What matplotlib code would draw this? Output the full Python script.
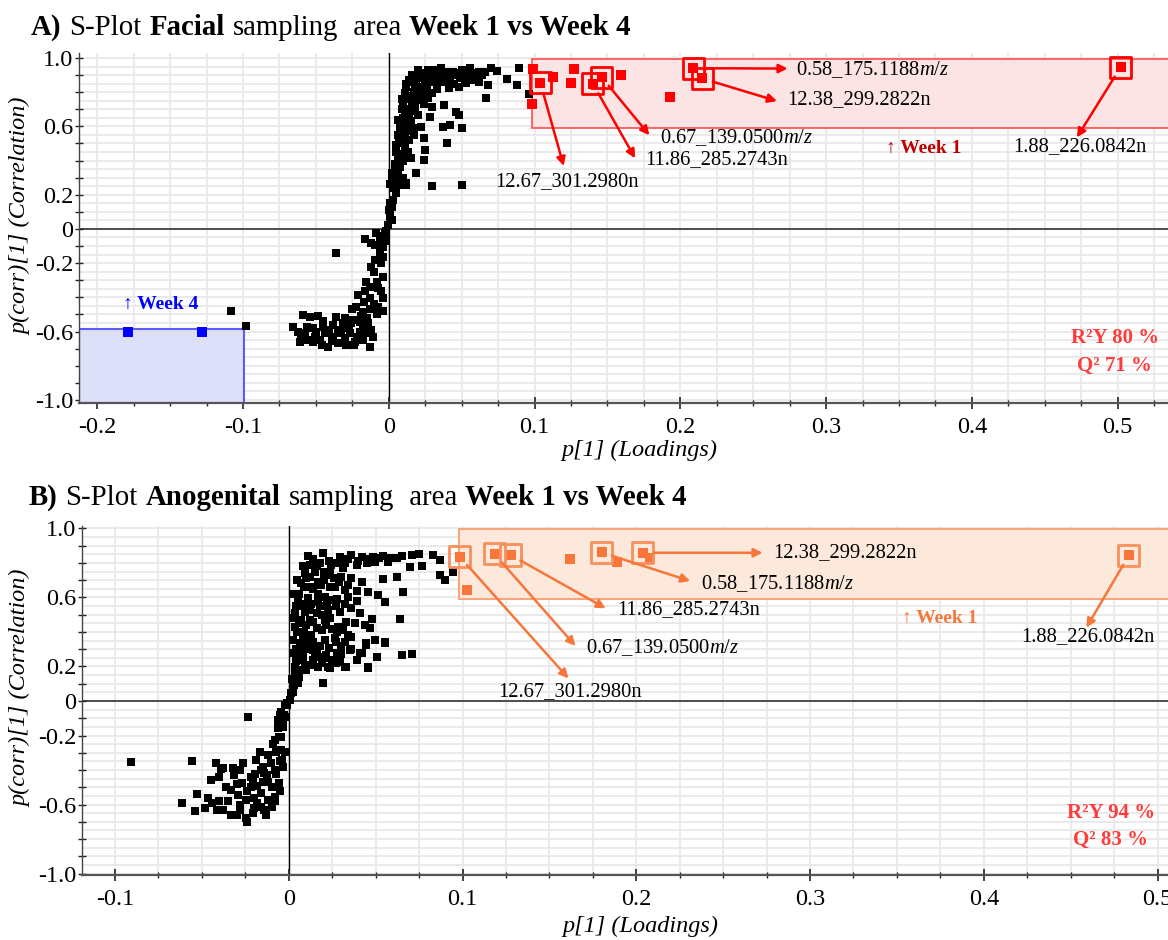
import matplotlib
matplotlib.use("Agg")
import matplotlib.pyplot as plt
import numpy as np
from matplotlib.patches import Rectangle
from matplotlib.ticker import MultipleLocator
from matplotlib.transforms import IdentityTransform

plt.rcParams["font.family"] = ["Liberation Serif", "DejaVu Serif"]
plt.rcParams["mathtext.fontset"] = "custom"
plt.rcParams["mathtext.rm"] = "Liberation Serif"
plt.rcParams["mathtext.it"] = "Liberation Serif:italic"
plt.rcParams["axes.unicode_minus"] = False

# ---------------- panel A: facial ----------------
A_BLACK = [
    (0.020, 0.930), (0.027, 0.930), (0.036, 0.940), (0.044, 0.920), (0.050, 0.930),
    (0.056, 0.940), (0.062, 0.920), (0.070, 0.940), (0.089, 0.940), (0.031, 0.930),
    (0.039, 0.920), (0.014, 0.871), (0.021, 0.881), (0.029, 0.891), (0.035, 0.881),
    (0.042, 0.871), (0.049, 0.881), (0.054, 0.891), (0.060, 0.881), (0.068, 0.842),
    (0.081, 0.877), (0.088, 0.842), (0.046, 0.900), (0.058, 0.900), (0.064, 0.900),
    (0.052, 0.870), (0.045, 0.850), (0.057, 0.870), (0.037, 0.860), (0.033, 0.820),
    (0.012, 0.832), (0.019, 0.842), (0.026, 0.842), (0.033, 0.852), (0.041, 0.823),
    (0.048, 0.832), (0.053, 0.852), (0.062, 0.862), (0.015, 0.860), (0.018, 0.820),
    (0.022, 0.830), (0.025, 0.870), (0.011, 0.793), (0.017, 0.803), (0.024, 0.803),
    (0.030, 0.793), (0.067, 0.768), (0.096, 0.788), (0.013, 0.780), (0.019, 0.770),
    (0.023, 0.780), (0.010, 0.735), (0.016, 0.745), (0.021, 0.754), (0.027, 0.764),
    (0.038, 0.725), (0.030, 0.715), (0.009, 0.700), (0.013, 0.700), (0.018, 0.710),
    (0.014, 0.667), (0.020, 0.667), (0.028, 0.657), (0.048, 0.667), (0.046, 0.686),
    (0.008, 0.630), (0.0075, 0.608), (0.012, 0.608), (0.017, 0.589), (0.022, 0.598),
    (0.037, 0.598), (0.042, 0.608), (0.050, 0.592), (0.010, 0.580), (0.013, 0.570),
    (0.0064, 0.550), (0.011, 0.540), (0.017, 0.550), (0.024, 0.530), (0.040, 0.501),
    (0.0098, 0.501), (0.007, 0.500), (0.011, 0.480), (0.013, 0.452), (0.025, 0.462),
    (0.005, 0.452), (0.0155, 0.413), (0.024, 0.404), (0.006, 0.420), (0.010, 0.400),
    (0.004, 0.380), (0.008, 0.360), (0.0064, 0.355), (0.019, 0.326), (0.003, 0.316),
    (0.002, 0.330), (0.006, 0.310), (0.0098, 0.296), (0.004, 0.267), (0.012, 0.257),
    (0.002, 0.280), (0.007, 0.270), (0.030, 0.251), (0.050, 0.257), (0.005, 0.228),
    (0.003, 0.240), (0.0075, 0.257), (0.012, 0.267), (0.005, 0.209), (0.003, 0.170),
    (0.002, 0.130), (0.0007, 0.092), (0.0025, 0.053), (-0.0005, 0.023), (0.001, 0.150),
    (0.000, 0.110), (0.001, 0.070), (0.016, 0.900), (0.023, 0.910), (0.028, 0.905),
    (0.034, 0.900), (0.040, 0.895), (0.047, 0.910), (0.053, 0.915), (0.060, 0.910),
    (0.066, 0.920), (0.074, 0.925), (0.012, 0.850), (0.017, 0.860), (0.020, 0.800),
    (0.026, 0.820), (0.029, 0.860), (0.009, 0.760), (0.014, 0.760), (0.018, 0.730),
    (0.024, 0.730), (0.011, 0.680), (0.016, 0.690), (0.006, 0.640), (0.010, 0.650),
    (0.015, 0.630), (0.008, 0.590), (0.014, 0.520), (0.009, 0.530), (0.005, 0.490),
    (0.012, 0.430), (0.008, 0.440), (0.007, 0.390), (0.004, 0.340), (0.002, 0.300),
    (0.001, 0.260),
    (-0.0027, -0.025), (-0.0085, -0.025), (-0.0165, -0.060), (-0.0096, -0.094), (-0.0039, -0.103),
    (-0.036, -0.140), (-0.0039, -0.162), (-0.0096, -0.181), (-0.0119, -0.220), (-0.0039, -0.279),
    (-0.0153, -0.308), (-0.0073, -0.346), (-0.013, -0.337), (-0.0211, -0.386), (-0.013, -0.405),
    (-0.0039, -0.405), (-0.0222, -0.454), (-0.0073, -0.454), (-0.013, -0.470), (-0.018, -0.483),
    (-0.005, -0.040), (-0.002, -0.070), (-0.006, -0.140), (-0.002, -0.010), (-0.006, -0.060),
    (-0.012, -0.080), (-0.005, -0.200), (-0.010, -0.250), (-0.008, -0.310), (-0.005, -0.360),
    (-0.016, -0.360), (-0.010, -0.440), (-0.017, -0.430), (-0.025, -0.470), (-0.008, -0.500),
    (-0.015, -0.520), (-0.004, -0.480),
    (-0.0588, -0.503), (-0.0485, -0.510), (-0.054, -0.515), (-0.0359, -0.515), (-0.030, -0.522),
    (-0.0245, -0.530), (-0.0187, -0.510), (-0.0656, -0.571), (-0.0622, -0.600), (-0.056, -0.571),
    (-0.0519, -0.581), (-0.045, -0.571), (-0.0382, -0.561), (-0.0313, -0.551), (-0.0256, -0.551),
    (-0.020, -0.542), (-0.0142, -0.551), (-0.061, -0.659), (-0.0553, -0.649), (-0.0507, -0.630),
    (-0.0473, -0.649), (-0.0416, -0.688), (-0.0348, -0.669), (-0.029, -0.678), (-0.0233, -0.659),
    (-0.0176, -0.649), (-0.013, -0.688), (-0.0108, -0.630), (-0.0576, -0.610), (-0.044, -0.610),
    (-0.0382, -0.630), (-0.0325, -0.610), (-0.0267, -0.610), (-0.020, -0.600), (-0.0153, -0.610),
    (-0.0496, -0.600), (-0.041, -0.590), (-0.022, -0.630), (-0.030, -0.640), (-0.046, -0.678),
    (-0.060, -0.630), (-0.052, -0.660), (-0.039, -0.655), (-0.033, -0.590), (-0.027, -0.580),
    (-0.045, -0.540), (-0.018, -0.580), (-0.012, -0.590), (-0.024, -0.680), (-0.035, -0.600),
    (-0.108, -0.480), (-0.098, -0.566),
]
A_RED = [
    (0.099, 0.936), (0.104, 0.855), (0.1125, 0.888), (0.127, 0.936), (0.125, 0.853),
    (0.140, 0.850), (0.146, 0.888), (0.159, 0.901), (0.0985, 0.730), (0.193, 0.769),
    (0.209, 0.940), (0.215, 0.880), (0.502, 0.946),
]
A_BLUE = [(-0.179, -0.600), (-0.128, -0.600)]
A_STATS = ["R²Y 80 %", "Q² 71 %"]

# ---------------- panel B: anogenital ----------------
B_BLACK = [
    (0.0198, 0.856), (0.0294, 0.836), (0.0361, 0.846), (0.042, 0.836), (0.0486, 0.836),
    (0.0543, 0.840), (0.062, 0.826), (0.0707, 0.846), (0.0831, 0.846), (0.087, 0.817),
    (0.0121, 0.788), (0.018, 0.797), (0.0245, 0.788), (0.0323, 0.797), (0.039, 0.788),
    (0.045, 0.797), (0.0495, 0.807), (0.0572, 0.807), (0.0697, 0.778), (0.0764, 0.782),
    (0.0946, 0.745), (0.087, 0.730), (0.0899, 0.700), (0.0092, 0.740), (0.015, 0.750),
    (0.0227, 0.730), (0.0303, 0.720), (0.0361, 0.711), (0.042, 0.691), (0.0543, 0.705),
    (0.062, 0.717), (0.0073, 0.681), (0.013, 0.662), (0.0188, 0.672), (0.0265, 0.662),
    (0.0323, 0.643), (0.0054, 0.585), (0.0111, 0.594), (0.0169, 0.575), (0.0245, 0.585),
    (0.0323, 0.565), (0.0457, 0.633), (0.0514, 0.614), (0.0553, 0.575), (0.0659, 0.633),
    (0.0035, 0.508), (0.0092, 0.517), (0.016, 0.508), (0.0227, 0.527), (0.0294, 0.517),
    (0.0361, 0.537), (0.0409, 0.508), (0.0035, 0.431), (0.0102, 0.440), (0.016, 0.421),
    (0.0217, 0.440), (0.0284, 0.431), (0.038, 0.450), (0.0466, 0.421), (0.048, 0.475),
    (0.0639, 0.475), (0.0025, 0.354), (0.0083, 0.363), (0.014, 0.344), (0.0207, 0.354),
    (0.0265, 0.363), (0.0323, 0.344), (0.0361, 0.373), (0.0447, 0.334), (0.0495, 0.354),
    (0.0553, 0.344), (0.0025, 0.276), (0.0083, 0.267), (0.015, 0.276), (0.0217, 0.267),
    (0.0284, 0.257), (0.0351, 0.295), (0.042, 0.276), (0.0505, 0.257), (0.0649, 0.267),
    (0.0707, 0.272), (0.0035, 0.199), (0.0092, 0.208), (0.017, 0.199), (0.0236, 0.189),
    (0.0323, 0.199), (0.0457, 0.199), (0.006, 0.620), (0.008, 0.550), (0.012, 0.470),
    (0.005, 0.400), (0.011, 0.300), (0.018, 0.320), (0.013, 0.380), (0.019, 0.410),
    (0.024, 0.480), (0.027, 0.550), (0.021, 0.600), (0.014, 0.650), (0.026, 0.710),
    (0.017, 0.690), (0.010, 0.710), (0.031, 0.770), (0.023, 0.810), (0.028, 0.400),
    (0.033, 0.460), (0.036, 0.300), (0.039, 0.240), (0.027, 0.220), (0.014, 0.240),
    (0.006, 0.250), (0.020, 0.250), (0.004, 0.300), (0.010, 0.330), (0.016, 0.270),
    (0.007, 0.470), (0.019, 0.500), (0.013, 0.560), (0.017, 0.620), (0.009, 0.660),
    (0.004, 0.550), (0.003, 0.480), (0.0438, 0.440), (0.0351, 0.373), (0.0447, 0.324),
    (0.0553, 0.334), (0.0409, 0.276), (0.0332, 0.199), (0.0457, 0.189), (0.0198, 0.102),
    (0.0227, 0.199), (0.0063, 0.334), (0.014, 0.295), (0.0083, 0.237), (0.0179, 0.257),
    (0.0275, 0.276), (0.0294, 0.228), (0.0035, 0.160), (0.0102, 0.180), (0.0054, 0.102),
    (0.0015, 0.044), (0.0006, 0.006), (0.0025, 0.054), (0.002, 0.130), (0.006, 0.140),
    (0.003, 0.620), (0.005, 0.700), (0.008, 0.780), (0.011, 0.840), (0.014, 0.820),
    (0.016, 0.780), (0.020, 0.750), (0.024, 0.750), (0.028, 0.800), (0.034, 0.820),
    (0.040, 0.810), (0.047, 0.820), (0.052, 0.830), (0.058, 0.830), (0.065, 0.840),
    (0.075, 0.850), (0.012, 0.720), (0.020, 0.700), (0.024, 0.660), (0.029, 0.690),
    (0.034, 0.670), (0.039, 0.640), (0.007, 0.560), (0.012, 0.530), (0.018, 0.550),
    (0.022, 0.570), (0.028, 0.590), (0.034, 0.600), (0.039, 0.580), (0.006, 0.450),
    (0.009, 0.400), (0.014, 0.460), (0.021, 0.470), (0.025, 0.420), (0.031, 0.410),
    (0.034, 0.380), (0.027, 0.340), (0.023, 0.310), (0.030, 0.320), (0.012, 0.360),
    (0.007, 0.290), (0.013, 0.210), (0.019, 0.220), (0.025, 0.240), (0.030, 0.270),
    (0.004, 0.230), (0.007, 0.180), (0.003, 0.090), (0.004, 0.120),
    (-0.0023, -0.025), (-0.0042, -0.064), (-0.0023, -0.090), (-0.0013, -0.013),
    (-0.0052, -0.081), (-0.0234, -0.091), (-0.0033, -0.120), (-0.0061, -0.158),
    (-0.0042, -0.207), (-0.0081, -0.226), (-0.0167, -0.294), (-0.0119, -0.313),
    (-0.0071, -0.294), (-0.0023, -0.294), (-0.0555, -0.346), (-0.042, -0.361),
    (-0.0388, -0.395), (-0.032, -0.390), (-0.0263, -0.357), (-0.0282, -0.400),
    (-0.040, -0.442), (-0.0186, -0.340), (-0.0148, -0.380), (-0.010, -0.360),
    (-0.0052, -0.350), (-0.0196, -0.420), (-0.0128, -0.430), (-0.0071, -0.420),
    (-0.091, -0.353), (-0.0613, -0.589), (-0.0527, -0.539), (-0.0463, -0.564),
    (-0.054, -0.636), (-0.0484, -0.620), (-0.0377, -0.632), (-0.0334, -0.660),
    (-0.0248, -0.680), (-0.0205, -0.651), (-0.0162, -0.612), (-0.0119, -0.574),
    (-0.0291, -0.545), (-0.0334, -0.516), (-0.027, -0.477), (-0.0205, -0.458),
    (-0.0377, -0.390), (-0.0313, -0.429), (-0.0141, -0.419), (-0.0098, -0.496),
    (-0.0162, -0.535), (-0.0248, -0.574), (-0.0184, -0.593), (-0.0141, -0.632),
    (-0.0411, -0.632), (-0.0441, -0.593), (-0.0098, -0.612), (-0.0077, -0.554),
    (-0.0055, -0.477), (-0.0034, -0.380), (-0.0042, -0.284), (-0.0055, -0.207),
    (-0.0034, -0.149), (-0.0025, -0.081), (-0.0012, -0.023), (-0.022, -0.500),
    (-0.015, -0.470), (-0.028, -0.600), (-0.035, -0.580), (-0.020, -0.560),
    (-0.004, -0.340), (-0.008, -0.400), (-0.012, -0.470), (-0.018, -0.490),
    (-0.024, -0.520), (-0.030, -0.480), (-0.028, -0.630), (-0.020, -0.620),
    (-0.013, -0.660), (-0.008, -0.580), (-0.005, -0.520), (-0.016, -0.400),
    (-0.022, -0.440), (-0.009, -0.250), (-0.006, -0.110), (-0.045, -0.460),
    (-0.036, -0.500), (-0.040, -0.580), (-0.030, -0.660), (-0.024, -0.700),
]
B_ORANGE = [
    (0.0984, 0.836), (0.1026, 0.643), (0.1184, 0.852), (0.1277, 0.846), (0.1619, 0.824),
    (0.180, 0.861), (0.189, 0.807), (0.2036, 0.859), (0.2078, 0.827), (0.4835, 0.845),
]
B_STATS = ["R²Y 94 %", "Q² 83 %"]

# annotation: label, marked point, arrow tip, text anchor, horizontal alignment
A_NOTES = [
    ("12.67_301.2980n", (0.104, 0.855), (0.120, 0.368), (0.122, 0.275), "center"),
    ("11.86_285.2743n", (0.140, 0.850), (0.169, 0.413), (0.176, 0.407), "left"),
    ("0.67_139.0500$m/z$", (0.146, 0.888), (0.1788, 0.548), (0.186, 0.535), "left"),
    ("0.58_175.1188$m/z$", (0.209, 0.940), (0.2736, 0.938), (0.279, 0.932), "left"),
    ("12.38_299.2822n", (0.215, 0.880), (0.2663, 0.748), (0.2736, 0.756), "left"),
    ("1.88_226.0842n", (0.502, 0.946), (0.472, 0.535), (0.428, 0.484), "left"),
]
B_NOTES = [
    ("12.67_301.2980n", (0.0984, 0.836), (0.161, 0.131), (0.162, 0.052), "center"),
    ("0.67_139.0500$m/z$", (0.1184, 0.852), (0.165, 0.319), (0.171, 0.309), "left"),
    ("11.86_285.2743n", (0.1277, 0.846), (0.1824, 0.537), (0.189, 0.527), "left"),
    ("0.58_175.1188$m/z$", (0.180, 0.861), (0.231, 0.695), (0.2374, 0.682), "left"),
    ("12.38_299.2822n", (0.2036, 0.859), (0.2727, 0.859), (0.279, 0.859), "left"),
    ("1.88_226.0842n", (0.4835, 0.845), (0.459, 0.425), (0.4217, 0.373), "left"),
]

Y_LABELS = {1.0: "1.0", 0.6: "0.6", 0.2: "0.2", 0.0: "0", -0.2: "-0.2", -0.6: "-0.6", -1.0: "-1.0"}

RED = "#ff0000"
ORANGE = "#f8763a"
BLUE = "#0000ff"


def style_axes(ax, xlim, ylim, xticks):
    ax.set_xlim(*xlim)
    ax.set_ylim(*ylim)
    for side in ("top", "right"):
        ax.spines[side].set_visible(False)
    ax.spines["left"].set_color("#444444")
    ax.spines["left"].set_linewidth(1.0)
    ax.spines["bottom"].set_color("#555555")
    ax.spines["bottom"].set_linewidth(1.6)

    ax.set_xticks(xticks)
    ax.set_xticklabels(["0" if abs(t) < 1e-9 else f"{t:.1f}" for t in xticks])
    ax.xaxis.set_minor_locator(MultipleLocator(0.025))
    yt = np.round(np.arange(-1.0, 1.001, 0.1), 2)
    ax.set_yticks(yt)
    ax.set_yticklabels([Y_LABELS.get(round(float(v), 1) + 0.0, "") for v in yt])
    ax.tick_params(axis="x", which="major", direction="inout", length=9, width=1.2,
                   pad=5, labelsize=17.5, color="#222222")
    ax.tick_params(axis="x", which="minor", direction="inout", length=5, width=1.0, color="#222222")
    ax.tick_params(axis="y", direction="inout", length=6, width=1.0, pad=1,
                   labelsize=17.5, color="#222222")

    for gx in np.arange(-0.2, 0.55, 0.025):
        ax.axvline(gx, color="#e8e8e8", lw=1.3, zorder=0)
    for gy in np.arange(-1.0, 1.01, 0.05):
        ax.axhline(gy, color="#e8e8e8", lw=1.3, zorder=0)
    ax.axhline(0, color="#333333", lw=1.2, zorder=1)
    ax.axvline(0, color="black", lw=1.0, zorder=1)

    ax.set_xlabel("p[1] (Loadings)", fontsize=17.5, style="italic")
    ax.set_ylabel("p(corr)[1] (Correlation)", fontsize=17.5, style="italic")


def draw_points(ax, pts, color, size, z):
    arr = np.array(pts)
    ax.scatter(arr[:, 0], arr[:, 1], s=size, marker="s", color=color, linewidths=0, zorder=z)


def draw_notes(ax, notes, color, box_edge):
    for label, point, tip, anchor, ha in notes:
        ax.scatter([point[0]], [point[1]], s=230, marker="s", facecolors="none",
                   edgecolors=box_edge, linewidths=2.0, zorder=5)
        ax.annotate("", xy=tip, xytext=point,
                    arrowprops=dict(arrowstyle="-|>", color=color, lw=1.8, shrinkA=8,
                                    shrinkB=0, mutation_scale=13), zorder=6)
        ax.text(anchor[0], anchor[1], label, fontsize=14.8, ha=ha, va="center", zorder=7)


def rich_title(fig, x, y, pieces, size):
    renderer = fig.canvas.get_renderer()
    gap = 0.27 * size * fig.dpi / 72
    for text, weight in pieces:
        t = fig.text(x, y, text, fontsize=size, fontweight=weight, ha="left", va="baseline",
                     transform=IdentityTransform())
        x = t.get_window_extent(renderer).x1 + gap


fig = plt.figure(figsize=(11.68, 9.40), dpi=100)
ax_a = fig.add_axes([0.0676, 0.5709, 0.9324, 0.3729])
ax_b = fig.add_axes([0.0702, 0.0688, 0.9298, 0.3718])

# panel A
style_axes(ax_a, (-0.2125, 0.5345), (-1.02, 1.03), np.round(np.arange(-0.2, 0.51, 0.1), 1))
ax_a.add_patch(Rectangle((0.098, 0.59), 0.6, 0.405, facecolor="#fde4e4", edgecolor="#ff4d4d",
                         lw=1.2, zorder=2))
ax_a.add_patch(Rectangle((-0.2125, -1.02), 0.1135, 0.435, facecolor="#dedff8", edgecolor="#5b5bff",
                         lw=1.5, zorder=2))
draw_points(ax_a, A_BLACK, "black", 34, 3)
draw_points(ax_a, A_RED, RED, 44, 4)
draw_points(ax_a, A_BLUE, BLUE, 44, 4)
draw_notes(ax_a, A_NOTES, RED, RED)
ax_a.text(0.341, 0.471, "↑ Week 1", color="#c00000", fontsize=14, fontweight="bold",
          ha="left", va="center", zorder=7)
ax_a.text(-0.182, -0.44, "↑ Week 4", color=BLUE, fontsize=14, fontweight="bold",
          ha="left", va="center", zorder=7)
ax_a.text(0.498, -0.637, A_STATS[0], color="#ff3b3b", fontsize=15, fontweight="bold",
          ha="center", va="center", zorder=7)
ax_a.text(0.498, -0.800, A_STATS[1], color="#ff3b3b", fontsize=15, fontweight="bold",
          ha="center", va="center", zorder=7)
ax_a.xaxis.set_label_coords(0.515, -0.105)
ax_a.yaxis.set_label_coords(-0.044, 0.535)

# panel B
style_axes(ax_b, (-0.119, 0.506), (-1.01, 1.015), np.round(np.arange(-0.1, 0.51, 0.1), 1))
ax_b.add_patch(Rectangle((0.098, 0.59), 0.6, 0.405, facecolor="#fde8dc", edgecolor="#f6a57c",
                         lw=1.5, zorder=2))
draw_points(ax_b, B_BLACK, "black", 34, 3)
draw_points(ax_b, B_ORANGE, ORANGE, 42, 4)
draw_notes(ax_b, B_NOTES, ORANGE, "#f7905c")
ax_b.text(0.353, 0.479, "↑ Week 1", color=ORANGE, fontsize=14, fontweight="bold",
          ha="left", va="center", zorder=7)
ax_b.text(0.473, -0.649, B_STATS[0], color="#ff3b3b", fontsize=15, fontweight="bold",
          ha="center", va="center", zorder=7)
ax_b.text(0.473, -0.805, B_STATS[1], color="#ff3b3b", fontsize=15, fontweight="bold",
          ha="center", va="center", zorder=7)
ax_b.xaxis.set_label_coords(0.514, -0.117)
ax_b.yaxis.set_label_coords(-0.047, 0.536)

rich_title(fig, 31, 905, [("A)", "bold"), ("S-Plot", "normal"), ("Facial", "bold"),
                          ("sampling", "normal"), (" area", "normal"),
                          ("Week 1 vs Week 4", "bold")], 20.8)
rich_title(fig, 29, 435, [("B)", "bold"), ("S-Plot", "normal"), ("Anogenital", "bold"),
                          ("sampling", "normal"), (" area", "normal"),
                          ("Week 1 vs Week 4", "bold")], 20.8)

fig.savefig("out.png", dpi=100)
